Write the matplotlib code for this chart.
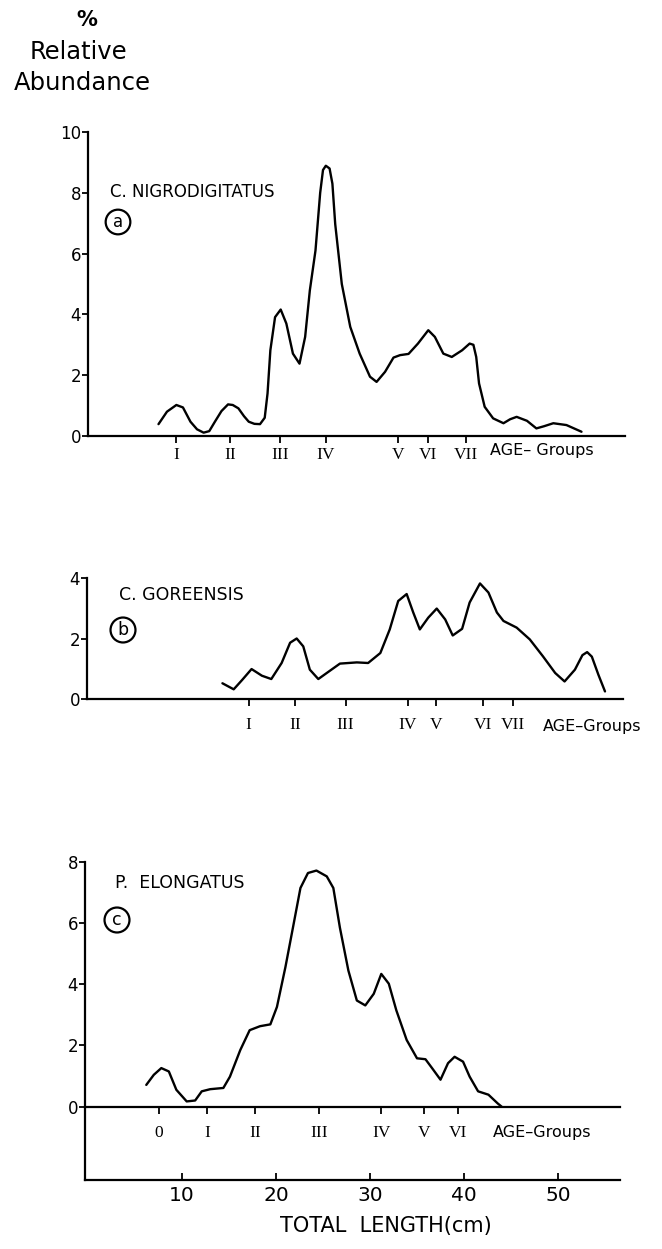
import matplotlib
matplotlib.use("Agg")
import matplotlib.pyplot as plt

W, H = 662, 1249

# --- data (total length in cm, relative abundance in %) ---
# a: C. nigrodigitatus
a_len = [7.5, 8.4, 9.4, 10.1, 10.9, 11.6, 12.3, 12.9, 13.5, 14.2, 14.9, 15.4, 16.0,
         16.6, 17.1, 17.7, 18.3, 18.8, 19.1, 19.4, 19.9, 20.5, 21.1, 21.8, 22.5,
         23.1, 23.6, 24.2, 24.7, 25.0, 25.3, 25.7, 26.0, 26.3, 27.0, 27.9, 28.9,
         30.0, 30.7, 31.6, 32.5, 33.2, 34.1, 35.1, 36.2, 36.9, 37.8, 38.7, 39.8,
         40.6, 41.0, 41.3, 41.6, 42.2, 43.1, 44.2, 44.9, 45.6, 46.7, 47.7, 48.5,
         49.5, 50.9, 52.5]
a_abund = [0.39, 0.80, 1.02, 0.94, 0.47, 0.22, 0.11, 0.16, 0.47, 0.82, 1.04, 1.02, 0.91,
           0.65, 0.47, 0.40, 0.39, 0.60, 1.40, 2.82, 3.91, 4.16, 3.70, 2.71, 2.38,
           3.26, 4.79, 6.10, 8.00, 8.75, 8.89, 8.80, 8.30, 6.97, 5.00, 3.59, 2.71,
           1.95, 1.78, 2.11, 2.58, 2.66, 2.70, 3.04, 3.48, 3.26, 2.71, 2.60, 2.82,
           3.04, 3.00, 2.60, 1.73, 0.96, 0.58, 0.42, 0.55, 0.63, 0.50, 0.25, 0.32,
           0.42, 0.36, 0.14]
a_age_pos = [9.4, 15.1, 20.4, 25.3, 33.0, 36.2, 40.2]
a_age_lab = ["I", "II", "III", "IV", "V", "VI", "VII"]

# b: C. goreensis
b_len = [14.3, 15.5, 16.4, 17.4, 18.5, 19.5, 20.6, 21.5, 22.2, 22.9, 23.6, 24.5,
         25.4, 26.8, 28.6, 29.8, 31.1, 32.1, 33.0, 33.9, 34.6, 35.3, 36.2, 37.1,
         38.0, 38.8, 39.8, 40.6, 41.7, 42.6, 43.5, 44.2, 45.6, 47.0, 48.4, 49.7,
         50.7, 51.8, 52.6, 53.1, 53.6, 54.3, 55.0]
b_abund = [0.52, 0.32, 0.63, 0.99, 0.77, 0.66, 1.19, 1.86, 2.00, 1.74, 0.97, 0.66,
           0.86, 1.17, 1.21, 1.19, 1.52, 2.30, 3.24, 3.47, 2.86, 2.30, 2.69, 2.99,
           2.63, 2.10, 2.32, 3.19, 3.82, 3.52, 2.86, 2.58, 2.36, 1.97, 1.41, 0.86,
           0.58, 0.97, 1.45, 1.55, 1.40, 0.80, 0.25]
b_age_pos = [17.1, 22.0, 27.4, 34.0, 37.0, 42.0, 45.2]
b_age_lab = ["I", "II", "III", "IV", "V", "VI", "VII"]

# c: P. elongatus
c_len = [6.2, 7.0, 7.8, 8.6, 9.4, 10.5, 11.4, 12.1, 13.0, 14.4, 15.1, 16.2, 17.2,
         18.3, 19.4, 20.1, 21.0, 21.8, 22.6, 23.4, 24.3, 25.4, 26.1, 26.8, 27.7,
         28.6, 29.5, 30.4, 31.2, 32.0, 32.8, 33.9, 35.0, 35.9, 36.6, 37.5, 38.3,
         39.0, 39.9, 40.6, 41.5, 42.6, 43.6, 44.0]
c_abund = [0.71, 1.04, 1.26, 1.15, 0.55, 0.17, 0.20, 0.50, 0.57, 0.61, 0.98, 1.85, 2.50,
           2.63, 2.69, 3.26, 4.56, 5.85, 7.15, 7.64, 7.72, 7.53, 7.15, 5.85, 4.45,
           3.47, 3.31, 3.69, 4.34, 4.02, 3.15, 2.18, 1.58, 1.55, 1.26, 0.88, 1.42,
           1.63, 1.47, 0.98, 0.50, 0.39, 0.10, 0.0]
c_age_pos = [7.55, 12.7, 17.8, 24.6, 31.2, 35.7, 39.4]
c_age_lab = ["0", "I", "II", "III", "IV", "V", "VI"]

length_ticks = [10, 20, 30, 40, 50]

PX_ZERO, PX_PER_CM = 88, 9.4

fig = plt.figure(figsize=(W / 100, H / 100), dpi=100)


def px_axes(left, top, right, bottom):
    ax = fig.add_axes([left / W, 1 - bottom / H, (right - left) / W, (bottom - top) / H])
    ax.set_xlim((left - PX_ZERO) / PX_PER_CM, (right - PX_ZERO) / PX_PER_CM)
    for s in ("top", "right"):
        ax.spines[s].set_visible(False)
    for s in ("left", "bottom"):
        ax.spines[s].set_linewidth(1.6)
    ax.tick_params(axis="y", direction="out", length=4, width=1.3, labelsize=12, pad=1)
    return ax


def ftext(px, py, s, **kw):
    fig.text(px / W, 1 - py / H, s, **kw)


serif = "Liberation Serif"
line_kw = dict(color="black", lw=1.7, solid_joinstyle="round", solid_capstyle="round", clip_on=False)

# panel a
ax = px_axes(88, 132, 625, 436)
ax.set_ylim(0, 10)
ax.set_yticks([0, 2, 4, 6, 8, 10])
ax.plot(a_len, a_abund, **line_kw)
ax.set_xticks(a_age_pos)
ax.set_xticklabels(a_age_lab, fontfamily=serif, fontsize=12.5)
ax.tick_params(axis="x", direction="out", length=5, width=1.3, pad=3)
ftext(110, 192, "C. NIGRODIGITATUS", fontsize=12, va="center")
ftext(118, 222, "a", fontsize=12, ha="center", va="center",
      bbox=dict(boxstyle="circle,pad=0.2", fc="none", ec="black", lw=1.6))
ftext(490, 451, "AGE– Groups", fontsize=11.5, va="center")

# panel b
ax = px_axes(87, 578, 623, 699)
ax.set_ylim(0, 4)
ax.set_yticks([0, 2, 4])
ax.plot(b_len, b_abund, **line_kw)
ax.set_xticks(b_age_pos)
ax.set_xticklabels(b_age_lab, fontfamily=serif, fontsize=12.5)
ax.tick_params(axis="x", direction="out", length=5, width=1.3, pad=8)
ftext(119, 595, "C. GOREENSIS", fontsize=12.5, va="center")
ftext(123, 630, "b", fontsize=12.5, ha="center", va="center",
      bbox=dict(boxstyle="circle,pad=0.2", fc="none", ec="black", lw=1.6))
ftext(543, 727, "AGE–Groups", fontsize=11.5, va="center")

# panel c, with total length axis underneath
y_bottom = -2.40
ax = px_axes(85, 862, 620, 1180)
ax.set_ylim(y_bottom, 8)
ax.set_yticks([0, 2, 4, 6, 8])
ax.plot(c_len, c_abund, **line_kw)
ax.set_xticks(length_ticks)
ax.set_xticklabels([str(t) for t in length_ticks], fontsize=14.5)
ax.tick_params(axis="x", direction="in", length=5, width=1.3, pad=4)
sec = ax.secondary_xaxis(-y_bottom / (8 - y_bottom))
sec.spines["bottom"].set_linewidth(1.6)
sec.set_xticks(c_age_pos)
sec.set_xticklabels(c_age_lab, fontfamily=serif, fontsize=12.5)
sec.tick_params(axis="x", direction="out", length=5, width=1.3, pad=8)
ftext(115, 883, "P.  ELONGATUS", fontsize=12.5, va="center")
ftext(117, 920, "c", fontsize=12.5, ha="center", va="center",
      bbox=dict(boxstyle="circle,pad=0.2", fc="none", ec="black", lw=1.6))
ftext(493, 1133, "AGE–Groups", fontsize=11.5, va="center")
ftext(386, 1226, "TOTAL  LENGTH(cm)", fontsize=15, ha="center", va="center")

# y label block
ftext(87, 20, "%", fontsize=15, ha="center", va="center", fontweight="bold")
ftext(78, 52, "Relative", fontsize=17.5, ha="center", va="center")
ftext(82, 83, "Abundance", fontsize=17.5, ha="center", va="center")

fig.savefig("out.png", dpi=100)
